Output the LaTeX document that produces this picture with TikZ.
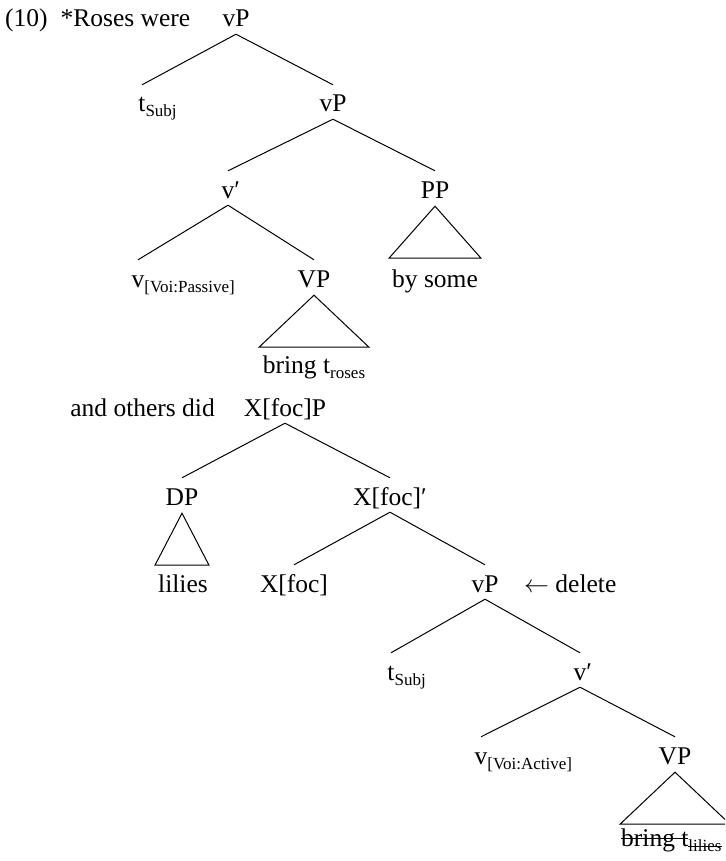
\documentclass[tikz,border=0pt]{standalone}
\usepackage{fontspec}
\setmainfont{Liberation Serif}
\usetikzlibrary{calc}
\newcommand\subs[1]{\raisebox{-5pt}{\fontsize{17}{17}\selectfont #1}}
\newsavebox\strikebox
\newcommand\strikeout[2]{\sbox\strikebox{#2}\rlap{\rule[#1]{\wd\strikebox}{1pt}}\usebox\strikebox}
\newcommand\treeedge[2]{\draw[edge] ($(#1.south)+(0,7)$) -- ($(#2.north)+(0,-10)$);}
\newcommand\treetri[2]{\draw[edge] ($(#1.south)+(0,8)$) -- ($(#1.south)+(-#2,60)$) -- ($(#1.south)+(#2,60)$) -- cycle;}
\begin{document}
\begin{tikzpicture}[x=1pt,y=-1pt,
  lab/.style={anchor=base, inner sep=0pt, text height=17pt, text depth=0pt, font=\fontsize{25.5}{30}\selectfont},
  freetext/.style={inner sep=0pt, font=\fontsize{25.5}{30}\selectfont},
  edge/.style={line width=1pt, line join=miter}]
\useasboundingbox (0,0) rectangle (725,861);
\clip (0,0) rectangle (725,861);

% ---- first tree ----
\node[freetext, anchor=base west] (ex) at (5,27) {(10)\hspace{13pt}*Roses were};
\node[lab] (vp1) at (236,27) {vP};
\node[lab] (tsubjA) at (142,112) {t\rlap{\subs{Subj}}};
\node[lab] (vp2) at (333,112) {vP};
\node[lab] (vbarA) at (228,198) {v\rlap{′}};
\node[lab] (ppA) at (435,198) {PP};
\node[lab] (vpassA) at (138,287) {v\rlap{\subs{[Voi:Passive]}}};
\node[lab] (vpA) at (314,287) {VP};
\node[freetext, anchor=base] (bringA) at (314,373) {bring t\subs{roses}};
\node[freetext, anchor=base] (bysome) at (435,287) {by some};

\treeedge{vp1}{tsubjA}
\treeedge{vp1}{vp2}
\treeedge{vp2}{vbarA}
\treeedge{vp2}{ppA}
\treeedge{vbarA}{vpassA}
\treeedge{vbarA}{vpA}
\treetri{ppA}{46}
\treetri{vpA}{55}

% ---- second tree ----
\node[freetext, anchor=base east] (others) at (215,416) {and others did};
\node[lab] (xfp) at (285,416) {X[foc]P};
\node[lab] (dp) at (182,505) {DP};
\node[lab] (xfbar) at (390,505) {X[foc]′};
\node[freetext, anchor=base] (lilies) at (183,592) {lilies};
\node[lab] (xf) at (294,592) {X[foc]};
\node[lab] (vpB) at (485,592) {vP};
\node[freetext, anchor=base west] (del) at (524,592) {$\leftarrow$ delete};
\node[lab] (tsubjB) at (391,680) {t\rlap{\subs{Subj}}};
\node[lab] (vbarB) at (580,680) {v\rlap{′}};
\node[lab] (vactB) at (481,764) {v\rlap{\subs{[Voi:Active]}}};
\node[lab] (vpB2) at (675,764) {VP};
\node[freetext, anchor=base west] (bringB) at (621,846) {\strikeout{7pt}{bring t}\raisebox{-5pt}{\fontsize{17}{17}\selectfont\strikeout{4.5pt}{lilies}}};

\treeedge{xfp}{dp}
\treeedge{xfp}{xfbar}
\treetri{dp}{27}
\treeedge{xfbar}{xf}
\treeedge{xfbar}{vpB}
\treeedge{vpB}{tsubjB}
\treeedge{vpB}{vbarB}
\treeedge{vbarB}{vactB}
\treeedge{vbarB}{vpB2}
\treetri{vpB2}{55}
\end{tikzpicture}
\end{document}
